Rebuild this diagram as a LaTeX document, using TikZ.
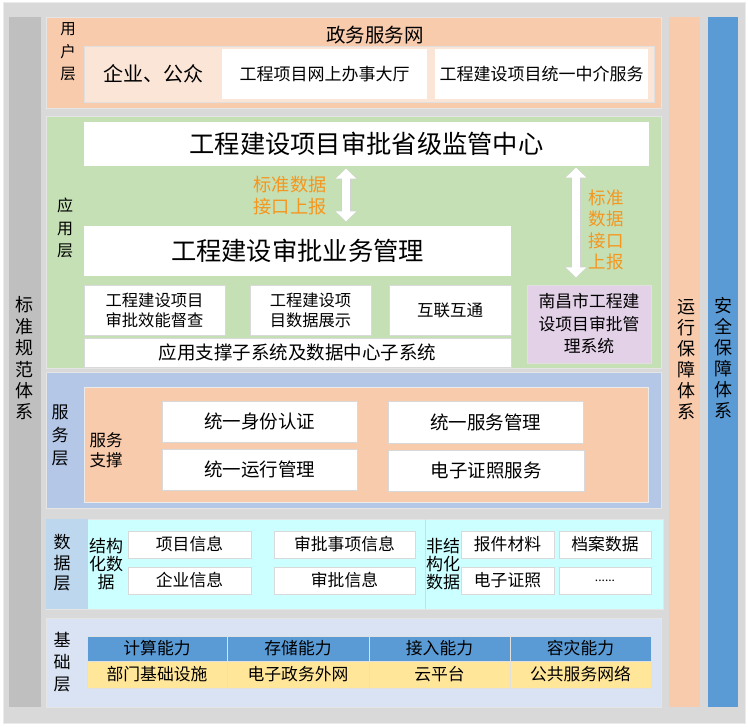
\documentclass[tikz,border=0pt]{standalone}
\usepackage{fontspec}
\setmainfont{Noto Sans CJK SC}
\usetikzlibrary{arrows.meta,shadows}
\definecolor{outerbg}{HTML}{D9D9D9}
\definecolor{barGray}{HTML}{BFBFBF}
\definecolor{peach}{HTML}{F8CBAD}
\definecolor{peachLight}{HTML}{FBE5D6}
\definecolor{greenL}{HTML}{C5E0B4}
\definecolor{purpleL}{HTML}{E2D1E7}
\definecolor{blueSvc}{HTML}{B4C7E7}
\definecolor{blueLab}{HTML}{BDD7EE}
\definecolor{cyanL}{HTML}{CCFFFF}
\definecolor{baseBlue}{HTML}{DAE3F3}
\definecolor{midBlue}{HTML}{5B9BD5}
\definecolor{yellowL}{HTML}{FFE699}
\definecolor{orangeTxt}{RGB}{245,150,30}
\newcommand\fs[2]{\fontsize{#1pt}{#2pt}\selectfont}
% \bx[style]{x1}{y1}{x2}{y2}{name}{text}
\newcommand\bx[7][]{\node[inner sep=0pt,minimum width={(#4-#2)*1pt},minimum height={(#5-#3)*1pt},#1] (#6) at ({(#2+#4)/2},{(#3+#5)/2}) {#7};}
\begin{document}
\begin{tikzpicture}[x=1pt,y=-1pt,
  layer/.style={fill=#1,draw=black!10,line width=0.6pt},
  wbox/.style={fill=white,draw=black!15,line width=0.5pt,drop shadow={shadow xshift=1.2pt,shadow yshift=-1.2pt,opacity=0.18,fill=black}},
  vlab/.style={align=center,inner sep=0pt},
  cell/.style={draw=black!12,line width=0.6pt,fill=#1},
  warrowbg/.style={line width=9.5pt,draw=black!18,{Triangle[width=22pt,length=11pt]}-{Triangle[width=22pt,length=11pt]}},
  warrow/.style={line width=8pt,draw=white,{Triangle[width=20pt,length=10pt]}-{Triangle[width=20pt,length=10pt]}}
]
\useasboundingbox (0,0) rectangle (748,727);
% outer frame
\bx[fill=outerbg,draw=black!8,line width=1pt]{3}{3}{745}{723}{outer}{}
% side bars
\bx[fill=barGray]{9}{17}{41}{707}{leftbar}{}
\bx[fill=peach]{669}{17}{700}{707}{runbar}{}
\bx[fill=midBlue]{708}{17}{738}{707}{secbar}{}
\node[vlab,font=\fs{18}{21.4}] (leftlab) at (25,358.5) {标\\准\\规\\范\\体\\系};
\node[vlab,font=\fs{18}{21}] (runlab) at (686,360) {运\\行\\保\\障\\体\\系};
\node[vlab,font=\fs{18}{21}] (seclab) at (723,358) {安\\全\\保\\障\\体\\系};

% ===== user layer =====
\bx[layer=peach]{46}{17}{661}{108}{user}{}
\node[vlab,font=\fs{15.5}{22.5}] (userlab) at (68,52) {用\\户\\层};
\node[font=\fs{19.5}{22}] (gov) at (375,35) {政务服务网};
\bx[fill=peachLight,draw=black!12,drop shadow={shadow xshift=1.2pt,shadow yshift=-1.2pt,opacity=0.18,fill=black}]{84}{46}{654}{102}{userin}{}
\node[font=\fs{20}{22}] (public) at (153,74) {企业、公众};
\bx[fill=white]{222}{49}{427}{99}{hall}{\fs{17}{20}工程项目网上办事大厅}
\bx[fill=white]{435}{49}{648}{99}{agent}{\fs{17}{20}工程建设项目统一中介服务}

% ===== application layer =====
\bx[layer=greenL]{46}{116}{661}{368}{app}{}
\node[vlab,font=\fs{16}{22.5}] (applab) at (65,228) {应\\用\\层};
\bx[fill=white]{84}{122}{649}{166}{title}{\fs{25.3}{28}工程建设项目审批省级监管中心}
\bx[fill=white]{84}{226}{511}{276}{biz}{\fs{25.3}{28}工程建设审批业务管理}
\bx[wbox,align=center,font=\fs{16.3}{20}]{84}{285}{225}{335}{effic}{工程建设项目\\审批效能督查}
\bx[wbox,align=center,font=\fs{16.3}{20}]{250}{285}{371}{335}{show}{工程建设项\\目数据展示}
\bx[wbox,font=\fs{16.5}{20}]{389}{285}{511}{335}{inter}{互联互通}
\bx[wbox,font=\fs{18.5}{20}]{84}{338}{511}{367}{support}{应用支撑子系统及数据中心子系统}
\bx[fill=purpleL,draw=black!12,drop shadow={shadow xshift=1.2pt,shadow yshift=-1.2pt,opacity=0.18,fill=black},align=center,font=\fs{16.8}{22.5}]{527}{285}{651}{363}{nc}{南昌市工程建\\设项目审批管\\理系统}
\node[vlab,text=orangeTxt,font=\fs{18.2}{22}] (rep1) at (290,196) {标准数据\\接口上报};
\node[vlab,text=orangeTxt,font=\fs{17.5}{21.5}] (rep2) at (606,230) {标准\\数据\\接口\\上报};
\coordinate (ax1) at (346,0);
\coordinate (ax2) at (576,0);
\draw[warrowbg,shorten <=2pt,shorten >=4pt] (title.south -| ax1) -- (biz.north -| ax1);
\draw[warrow,shorten <=2.5pt,shorten >=4.5pt] (title.south -| ax1) -- (biz.north -| ax1);
\draw[warrowbg,shorten <=1pt,shorten >=7pt] (title.south -| ax2) -- (nc.north -| ax2);
\draw[warrow,shorten <=1.5pt,shorten >=7.5pt] (title.south -| ax2) -- (nc.north -| ax2);

% ===== service layer =====
\bx[layer=blueSvc]{46}{372}{661}{508}{svc}{}
\node[vlab,font=\fs{17}{23}] (svclab) at (60,435) {服\\务\\层};
\bx[fill=peach,draw=black!8]{84}{387}{648}{502}{svcin}{}
\node[vlab,font=\fs{16.5}{20}] (svcsup) at (106,450) {服务\\支撑};
\bx[wbox,font=\fs{18.5}{20}]{162}{401}{357}{442}{s1}{统一身份认证}
\bx[wbox,font=\fs{18.5}{20}]{162}{449}{357}{490}{s2}{统一运行管理}
\bx[wbox,font=\fs{18.5}{20}]{388}{401}{583}{443}{s3}{统一服务管理}
\bx[wbox,font=\fs{18.5}{20}]{388}{450}{584}{491}{s4}{电子证照服务}

% ===== data layer =====
\bx[fill=cyanL,draw=black!10,line width=0.6pt]{46}{519}{663}{609}{data}{}
\bx[fill=blueLab]{46}{519}{88}{609}{datalabbg}{}
\node[vlab,font=\fs{17}{20.5}] (datalab) at (62,563) {数\\据\\层};
\coordinate (divx) at (425,0);
\draw[black!15,line width=0.8pt] (data.north -| divx) -- (data.south -| divx);
\node[vlab,font=\fs{17}{18}] (struct) at (106,564) {结构\\化数\\据};
\node[vlab,font=\fs{17}{18}] (unstruct) at (443,564) {非结\\构化\\数据};
\bx[wbox,font=\fs{16.8}{20}]{128}{531}{251}{558}{d1}{项目信息}
\bx[wbox,font=\fs{16.8}{20}]{128}{567}{251}{594}{d2}{企业信息}
\bx[wbox,font=\fs{16.8}{20}]{274}{531}{415}{558}{d3}{审批事项信息}
\bx[wbox,font=\fs{16.8}{20}]{274}{567}{415}{594}{d4}{审批信息}
\bx[wbox,font=\fs{16.8}{20}]{461}{531}{554}{558}{d5}{报件材料}
\bx[wbox,font=\fs{16.8}{20}]{559}{531}{651}{558}{d6}{档案数据}
\bx[wbox,font=\fs{16.8}{20}]{461}{567}{554}{594}{d7}{电子证照}
\bx[wbox,font=\fs{12}{20}]{559}{567}{651}{594}{d8}{......}

% ===== base layer =====
\bx[layer=baseBlue]{46}{618}{661}{707}{base}{}
\node[vlab,font=\fs{17}{22}] (baselab) at (62,662) {基\\础\\层};
\bx[cell=midBlue,font=\fs{16.8}{20}]{87}{636}{227}{661}{h1}{计算能力}
\bx[cell=midBlue,font=\fs{16.8}{20}]{227}{636}{369}{661}{h2}{存储能力}
\bx[cell=midBlue,font=\fs{16.8}{20}]{369}{636}{510}{661}{h3}{接入能力}
\bx[cell=midBlue,font=\fs{16.8}{20}]{510}{636}{651}{661}{h4}{容灾能力}
\bx[cell=yellowL,font=\fs{16.8}{20}]{87}{661}{227}{688}{r1}{部门基础设施}
\bx[cell=yellowL,font=\fs{16.8}{20}]{227}{661}{369}{688}{r2}{电子政务外网}
\bx[cell=yellowL,font=\fs{16.8}{20}]{369}{661}{510}{688}{r3}{云平台}
\bx[cell=yellowL,font=\fs{16.8}{20}]{510}{661}{651}{688}{r4}{公共服务网络}
\end{tikzpicture}
\end{document}
